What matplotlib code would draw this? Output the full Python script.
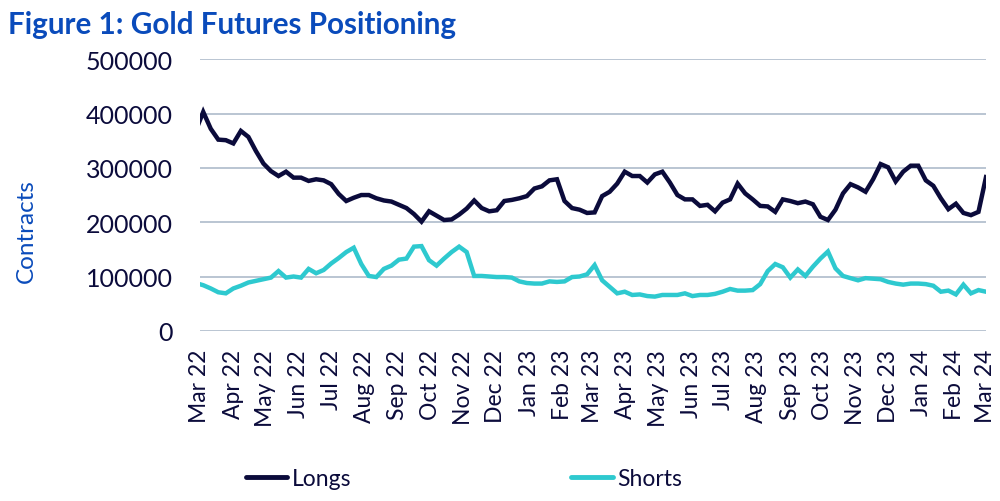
import matplotlib
matplotlib.use("Agg")
import matplotlib.pyplot as plt
import matplotlib.dates as mdates
import numpy as np
import pandas as pd

# Weekly observation dates (Fridays); the first one falls just before the axis start
dates = pd.date_range("2022-02-25", "2024-03-01", freq="7D")

longs = [
    368000,
    403000, 372000, 352000, 351000, 345000, 368000, 357000, 331000, 308000, 294000,
    285000, 293000, 282000, 282000, 276000, 279000, 277000, 270000, 252000, 239000,
    245000, 250000, 250000, 244000, 240000, 238000, 232000, 226000, 215000, 201000,
    220000, 212000, 204000, 205000, 214000, 225000, 240000, 226000, 220000, 222000,
    239000, 241000, 244000, 248000, 262000, 266000, 277000, 279000, 239000, 226000,
    223000, 217000, 218000, 248000, 256000, 271000, 293000, 285000, 285000, 273000,
    288000, 293000, 273000, 250000, 242000, 242000, 230000, 232000, 220000, 236000,
    242000, 271000, 253000, 242000, 230000, 229000, 219000, 242000, 239000, 235000,
    238000, 233000, 210000, 204000, 223000, 253000, 270000, 264000, 256000, 279000,
    307000, 301000, 275000, 293000, 304000, 304000, 277000, 267000, 244000, 224000,
    234000, 217000, 213000, 219000, 283000,
]

shorts = [
    88000,
    84000, 78000, 71000, 69000, 78000, 83000, 89000, 92000, 95000, 98000,
    110000, 98000, 100000, 98000, 114000, 106000, 112000, 124000, 134000, 145000,
    153000, 123000, 101000, 99000, 114000, 120000, 131000, 133000, 155000, 156000,
    130000, 120000, 133000, 145000, 155000, 145000, 101000, 101000, 100000, 99000,
    99000, 98000, 91000, 88000, 87000, 87000, 91000, 90000, 91000, 99000,
    100000, 104000, 121000, 93000, 81000, 69000, 72000, 66000, 67000, 64000,
    63000, 66000, 66000, 66000, 69000, 64000, 66000, 66000, 68000, 72000,
    77000, 74000, 74000, 75000, 86000, 110000, 123000, 117000, 98000, 113000,
    101000, 118000, 133000, 146000, 115000, 101000, 97000, 93000, 97000, 96000,
    95000, 90000, 87000, 85000, 87000, 87000, 86000, 83000, 72000, 74000,
    67000, 85000, 69000, 75000, 72000,
]

yticks = [0, 100000, 200000, 300000, 400000, 500000]
month_ticks = pd.date_range("2022-03-01", "2024-03-01", freq="MS")
month_labels = [d.strftime("%b %y") for d in month_ticks]

title = "Figure 1: Gold Futures Positioning"
ylabel = "Contracts"
series_names = ["Longs", "Shorts"]

FONT = ["Lato", "DejaVu Sans"]
plt.rcParams["font.family"] = FONT

navy = "#0b0b3b"
teal = "#2ec9cf"
blue = "#0a4bbb"
grid_c = "#b4c0cf"

fig = plt.figure(figsize=(10, 5.02), dpi=100)
ax = fig.add_axes([0.200, 0.339, 0.786, 0.541])

ax.plot(dates, longs, color=navy, lw=3.2, solid_joinstyle="miter", label=series_names[0])
ax.plot(dates, shorts, color=teal, lw=3.2, solid_joinstyle="miter", label=series_names[1])

ax.set_xlim(pd.Timestamp("2022-03-01"), pd.Timestamp("2024-03-01"))
ax.set_ylim(0, 500000)
ax.set_yticks(yticks)
ax.set_yticklabels([str(v) for v in yticks], fontsize=18, color=navy)
ax.set_xticks(month_ticks)
ax.set_xticklabels(month_labels, rotation=90, fontsize=16.5, color=navy, ha="center", va="top")
ax.tick_params(axis="both", length=0)
ax.tick_params(axis="x", pad=13)
ax.tick_params(axis="y", pad=19.5)

ax.grid(axis="y", color=grid_c, lw=1.3)
ax.set_axisbelow(True)
for s in ax.spines.values():
    s.set_visible(False)

fig.text(0.008, 0.950, title, fontsize=21.3, fontweight="bold", color=blue, ha="left", va="center")
fig.text(0.026, 0.54, ylabel, fontsize=17.5, color=blue, rotation=90, ha="center", va="center")

leg = fig.legend(loc="center", bbox_to_anchor=(0.464, 0.044), ncol=2, frameon=False,
                 fontsize=16.5, handlelength=1.8, handletextpad=0.2, columnspacing=9.6)
for t in leg.get_texts():
    t.set_color(navy)
for l in leg.get_lines():
    l.set_linewidth(3.5)
    l.set_solid_capstyle("round")

fig.savefig("out.png", dpi=100)
